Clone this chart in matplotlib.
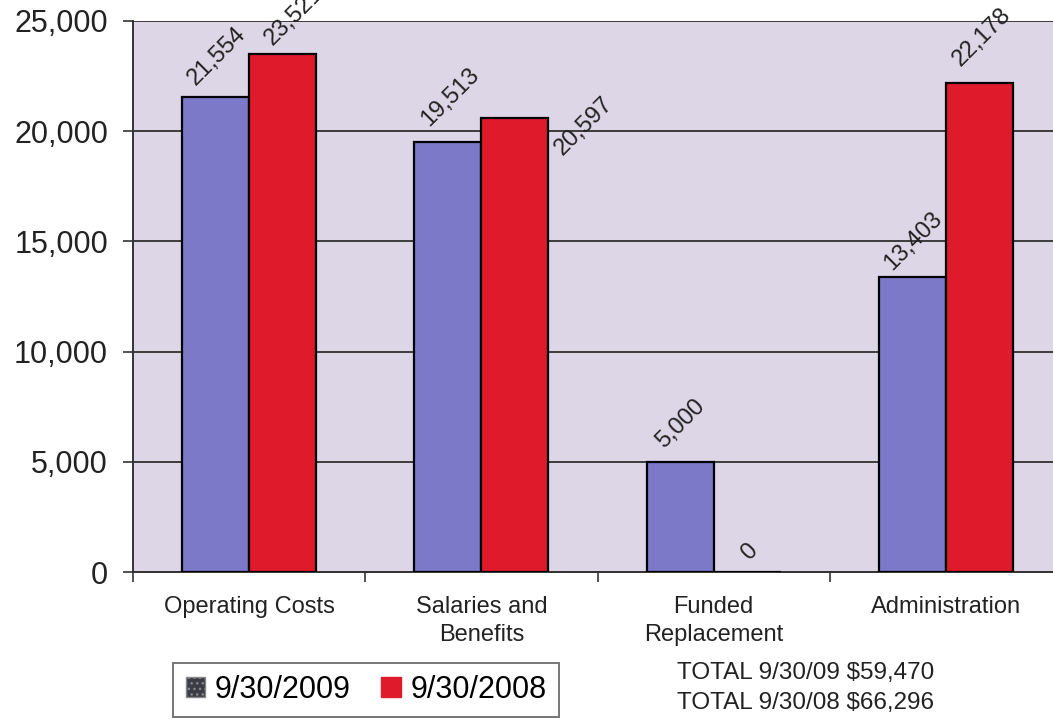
import numpy as np
import matplotlib.pyplot as plt
from matplotlib.patches import Patch

plt.rcParams['font.family'] = ['Liberation Sans', 'DejaVu Sans']

categories = ['Operating Costs', 'Salaries and\nBenefits', 'Funded\nReplacement', 'Administration']
fy2009 = [21554, 19513, 5000, 13403]
fy2008 = [23521, 20597, 0, 22178]
series_names = ['9/30/2009', '9/30/2008']
totals = ['TOTAL 9/30/09 $59,470', 'TOTAL 9/30/08 $66,296']

# label offsets (pixels from bar top) for the rotated value labels
off2009 = [(1, 41), (2, 45), (0, 38), (1, 35)]
off2008 = [(11, 37), (69, -8), (2, 20), (3, 46)]

bg = '#dcd6e6'
blue = '#7b79c8'
red = '#de1a2b'

fig = plt.figure(figsize=(10.53, 7.19), dpi=100)
ax = fig.add_axes([133 / 1053, 147 / 719, 929 / 1053, 551 / 719])
ax.set_facecolor(bg)

x = np.arange(len(categories))
w = 0.288
b1 = ax.bar(x - w / 2, fy2009, w, color=blue, edgecolor='black', linewidth=1.6, zorder=3)
b2 = ax.bar(x + w / 2, fy2008, w, color=red, edgecolor='black', linewidth=1.6, zorder=3)

px = 72 / 100
for bars, vals, offs in [(b1, fy2009, off2009), (b2, fy2008, off2008)]:
    for rect, v, (dx, dy) in zip(bars, vals, offs):
        ax.annotate(f'{v:,}', (rect.get_x() + rect.get_width() / 2, v),
                    xytext=(dx * px, dy * px), textcoords='offset points',
                    ha='center', va='center', rotation=45, fontsize=17,
                    color='#222222', zorder=4, annotation_clip=False)

ax.set_xlim(-0.5, 3.5)
ax.set_ylim(0, 25000)
ax.set_yticks(np.arange(0, 25001, 5000))
ax.set_yticklabels([f'{t:,}' for t in range(0, 25001, 5000)], fontsize=22, color='#222222')
ax.yaxis.grid(True, color='#3c3c3c', linewidth=1.4, zorder=1)
ax.set_axisbelow(True)

ax.set_xticks([-0.5, 0.5, 1.5, 2.5])
ax.set_xticklabels([])
ax.set_xticks(x, minor=True)
ax.set_xticklabels(categories, minor=True, fontsize=17, color='#222222', linespacing=1.35)
ax.tick_params(axis='x', which='major', length=7, width=1.2, color='#333333')
ax.tick_params(axis='x', which='minor', length=0, pad=17)
ax.tick_params(axis='y', length=7, width=1.2, pad=11, color='#333333')

for s in ['top', 'right']:
    ax.spines[s].set_visible(False)
ax.spines['left'].set_color('#333333')
ax.spines['left'].set_linewidth(1.4)
ax.spines['bottom'].set_color('#333333')
ax.spines['bottom'].set_linewidth(1.4)

handles = [Patch(facecolor='#3c3c46', edgecolor='#888888', hatch='...'),
           Patch(facecolor=red, edgecolor=red)]
leg = fig.legend(handles, series_names, loc='center', bbox_to_anchor=(366 / 1053, 1 - 690 / 719),
                 ncol=2, fontsize=22, frameon=True, fancybox=False, edgecolor='#555555',
                 handlelength=0.65, handleheight=0.65, handletextpad=0.3, columnspacing=1.0,
                 borderpad=0.4)
leg.get_frame().set_linewidth(1.4)

fig.text(677 / 1053, 1 - 673 / 719, totals[0], fontsize=17.5, color='#222222', va='center')
fig.text(677 / 1053, 1 - 703 / 719, totals[1], fontsize=17.5, color='#222222', va='center')

fig.savefig('out.png', dpi=100)
